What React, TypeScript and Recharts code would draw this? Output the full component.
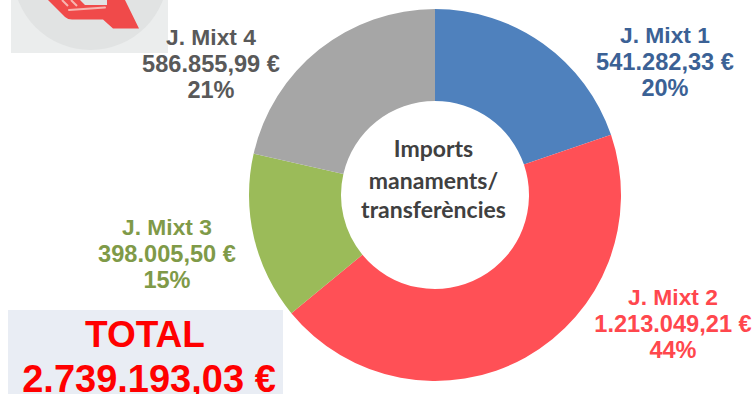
import { PieChart, Pie, Cell, Customized } from 'recharts';

const names = ['J. Mixt 1', 'J. Mixt 2', 'J. Mixt 3', 'J. Mixt 4'];
const amounts = [541282.33, 1213049.21, 398005.5, 586855.99];
const amountLabels = ['541.282,33 €', '1.213.049,21 €', '398.005,50 €', '586.855,99 €'];
const percentLabels = ['20%', '44%', '15%', '21%'];
const colors = ['#4f81bd', '#ff5056', '#9bbb59', '#a6a6a6'];
const textColors = ['#3b6195', '#ff474d', '#7f9a48', '#595959'];
const labelPos = [
  { x: 665, y: 43 },
  { x: 673, y: 305 },
  { x: 167, y: 235 },
  { x: 211, y: 45 },
];
const centerLines = ['Imports', 'manaments/', 'transferències'];
const centerBaselines = [157, 189, 218];
const totalLines = ['TOTAL', '2.739.193,03 €'];

const data = names.map((name, i) => ({ name, value: amounts[i] }));
const font = '"Liberation Sans", Arial, sans-serif';

function Logo() {
  return (
    <g>
      <rect x={11} y={0} width={157} height={53} fill="#ebeded" />
      <circle cx={90.5} cy={-27.6} r={77.6} fill="#e1e3e3" />
      <path
        d="M48 0 L65 17 Q68 19.5 72 19.5 L103 19.5 L113 28.5 L139 28.5 L125 0 L107 0 L107 5 L85 5 L80 0 Z"
        fill="#f04a4a"
      />
      <path d="M69 10 L105 7.5" stroke="#f7b5b0" strokeWidth={2} strokeLinecap="round" fill="none" />
      <path d="M62 0 L68 6 M71 0 L77 6" stroke="#f7b5b0" strokeWidth={2} fill="none" />
    </g>
  );
}

function Labels() {
  return (
    <g fontFamily={font} fontWeight={700} textAnchor="middle">
      <Logo />
      <rect x={8} y={310} width={275} height={84} fill="#e9edf4" />
      <text x={145} y={347} fontSize={37} fill="#ff0000">{totalLines[0]}</text>
      <text x={149} y={392} fontSize={38} fill="#ff0000">{totalLines[1]}</text>
      {names.map((name, i) => (
        <g key={name} fill={textColors[i]}>
          <text x={labelPos[i].x} y={labelPos[i].y} fontSize={22.8}>{name}</text>
          <text x={labelPos[i].x} y={labelPos[i].y + 26.5} fontSize={23.6}>{amountLabels[i]}</text>
          <text x={labelPos[i].x} y={labelPos[i].y + 53} fontSize={23.5}>{percentLabels[i]}</text>
        </g>
      ))}
      {centerLines.map((line, i) => (
        <text key={line} x={433.5} y={centerBaselines[i]} fontSize={23} fontFamily="Lato, sans-serif" fill="#404040">{line}</text>
      ))}
    </g>
  );
}

export default function App() {
  return (
    <div style={{ position: 'absolute', left: 0, top: 0, width: 756, height: 394, overflow: 'hidden' }}>
      <PieChart width={756} height={394} margin={{ top: 0, right: 0, bottom: 0, left: 0 }}>
        <Pie
          data={data}
          dataKey="value"
          cx={435}
          cy={195}
          innerRadius={94}
          outerRadius={186}
          startAngle={90}
          endAngle={-270}
          stroke="none"
          isAnimationActive={false}
        >
          {data.map((entry, i) => (
            <Cell key={entry.name} fill={colors[i]} />
          ))}
        </Pie>
        <Customized component={Labels} />
      </PieChart>
    </div>
  );
}
